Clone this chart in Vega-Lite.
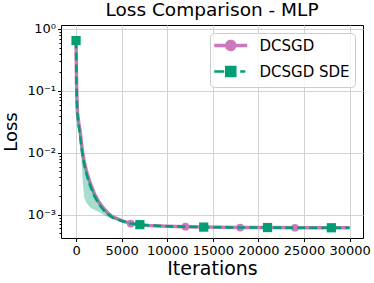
{
  "$schema": "https://vega.github.io/schema/vega-lite/v6.json",
  "autosize": {"type": "none"},
  "padding": {"left": 61, "top": 25, "right": 11, "bottom": 45},
  "width": 302,
  "height": 213,
  "title": {"text": "Loss Comparison - MLP", "fontSize": 18.5, "font": "DejaVu Sans", "fontWeight": "normal", "offset": 3, "color": "black"},
  "config": {
    "font": "DejaVu Sans",
    "view": {"stroke": "black", "strokeWidth": 1},
    "axis": {"domain": false, "gridColor": "#d3d3d3", "gridWidth": 1, "tickColor": "black", "labelColor": "black", "titleColor": "black", "labelFontSize": 13, "titleFontSize": 18, "titleFontWeight": "normal", "tickSize": 3.5, "labelFont": "DejaVu Sans", "titleFont": "DejaVu Sans"}
  },
  "datasets": {
    "curves": [
      {"series": "DCSGD", "iter": 0, "loss": 0.65, "lo": 0.63, "hi": 0.67},
      {"series": "DCSGD", "iter": 50, "loss": 0.15, "lo": 0.13, "hi": 0.17},
      {"series": "DCSGD", "iter": 100, "loss": 0.07, "lo": 0.06, "hi": 0.078},
      {"series": "DCSGD", "iter": 150, "loss": 0.045, "lo": 0.038, "hi": 0.05},
      {"series": "DCSGD", "iter": 300, "loss": 0.03, "lo": 0.025, "hi": 0.033},
      {"series": "DCSGD", "iter": 450, "loss": 0.022, "lo": 0.018, "hi": 0.024},
      {"series": "DCSGD", "iter": 600, "loss": 0.014, "lo": 0.011, "hi": 0.0155},
      {"series": "DCSGD", "iter": 750, "loss": 0.0095, "lo": 0.0078, "hi": 0.0105},
      {"series": "DCSGD", "iter": 900, "loss": 0.0072, "lo": 0.006, "hi": 0.008},
      {"series": "DCSGD", "iter": 1100, "loss": 0.0054, "lo": 0.0045, "hi": 0.006},
      {"series": "DCSGD", "iter": 1300, "loss": 0.0042, "lo": 0.0035, "hi": 0.0046},
      {"series": "DCSGD", "iter": 1600, "loss": 0.0031, "lo": 0.0026, "hi": 0.0034},
      {"series": "DCSGD", "iter": 2000, "loss": 0.0022, "lo": 0.0019, "hi": 0.0024},
      {"series": "DCSGD", "iter": 2500, "loss": 0.0016, "lo": 0.0014, "hi": 0.00172},
      {"series": "DCSGD", "iter": 3000, "loss": 0.00128, "lo": 0.00115, "hi": 0.00135},
      {"series": "DCSGD", "iter": 3500, "loss": 0.00106, "lo": 0.00098, "hi": 0.0011},
      {"series": "DCSGD", "iter": 4000, "loss": 0.00093, "lo": 0.00088, "hi": 0.00096},
      {"series": "DCSGD", "iter": 5000, "loss": 0.0008, "lo": 0.00078, "hi": 0.00082},
      {"series": "DCSGD", "iter": 6000, "loss": 0.00072, "lo": 0.00071, "hi": 0.00073},
      {"series": "DCSGD", "iter": 7000, "loss": 0.00069},
      {"series": "DCSGD", "iter": 8000, "loss": 0.00067},
      {"series": "DCSGD", "iter": 10000, "loss": 0.00065},
      {"series": "DCSGD", "iter": 12000, "loss": 0.00064},
      {"series": "DCSGD", "iter": 14000, "loss": 0.00063},
      {"series": "DCSGD", "iter": 16000, "loss": 0.000625},
      {"series": "DCSGD", "iter": 18000, "loss": 0.00062},
      {"series": "DCSGD", "iter": 21000, "loss": 0.00062},
      {"series": "DCSGD", "iter": 24000, "loss": 0.000615},
      {"series": "DCSGD", "iter": 28000, "loss": 0.000615},
      {"series": "DCSGD", "iter": 30000, "loss": 0.000615},
      {"series": "DCSGD SDE", "iter": 0, "loss": 0.65, "lo": 0.6, "hi": 0.7},
      {"series": "DCSGD SDE", "iter": 50, "loss": 0.14, "lo": 0.11, "hi": 0.17},
      {"series": "DCSGD SDE", "iter": 100, "loss": 0.065, "lo": 0.052, "hi": 0.078},
      {"series": "DCSGD SDE", "iter": 150, "loss": 0.042, "lo": 0.034, "hi": 0.05},
      {"series": "DCSGD SDE", "iter": 300, "loss": 0.027, "lo": 0.022, "hi": 0.032},
      {"series": "DCSGD SDE", "iter": 450, "loss": 0.019, "lo": 0.014, "hi": 0.024},
      {"series": "DCSGD SDE", "iter": 600, "loss": 0.012, "lo": 0.0075, "hi": 0.016},
      {"series": "DCSGD SDE", "iter": 750, "loss": 0.0085, "lo": 0.0032, "hi": 0.011},
      {"series": "DCSGD SDE", "iter": 900, "loss": 0.0064, "lo": 0.0019, "hi": 0.0082},
      {"series": "DCSGD SDE", "iter": 1100, "loss": 0.0048, "lo": 0.0016, "hi": 0.006},
      {"series": "DCSGD SDE", "iter": 1300, "loss": 0.0038, "lo": 0.00145, "hi": 0.0046},
      {"series": "DCSGD SDE", "iter": 1600, "loss": 0.0028, "lo": 0.0013, "hi": 0.0034},
      {"series": "DCSGD SDE", "iter": 2000, "loss": 0.002, "lo": 0.0012, "hi": 0.0024},
      {"series": "DCSGD SDE", "iter": 2500, "loss": 0.00148, "lo": 0.0011, "hi": 0.0017},
      {"series": "DCSGD SDE", "iter": 3000, "loss": 0.0012, "lo": 0.001, "hi": 0.0013},
      {"series": "DCSGD SDE", "iter": 3500, "loss": 0.00102, "lo": 0.00092, "hi": 0.00108},
      {"series": "DCSGD SDE", "iter": 4000, "loss": 0.0009, "lo": 0.00086, "hi": 0.00094},
      {"series": "DCSGD SDE", "iter": 5000, "loss": 0.00079, "lo": 0.00077, "hi": 0.00081},
      {"series": "DCSGD SDE", "iter": 6000, "loss": 0.00072, "lo": 0.00071, "hi": 0.00073},
      {"series": "DCSGD SDE", "iter": 7000, "loss": 0.00069},
      {"series": "DCSGD SDE", "iter": 8000, "loss": 0.00067},
      {"series": "DCSGD SDE", "iter": 10000, "loss": 0.00065},
      {"series": "DCSGD SDE", "iter": 12000, "loss": 0.00064},
      {"series": "DCSGD SDE", "iter": 14000, "loss": 0.00063},
      {"series": "DCSGD SDE", "iter": 16000, "loss": 0.000625},
      {"series": "DCSGD SDE", "iter": 18000, "loss": 0.00062},
      {"series": "DCSGD SDE", "iter": 21000, "loss": 0.00062},
      {"series": "DCSGD SDE", "iter": 24000, "loss": 0.000615},
      {"series": "DCSGD SDE", "iter": 28000, "loss": 0.000615},
      {"series": "DCSGD SDE", "iter": 30000, "loss": 0.000615}
    ],
    "markers": [
      {"series": "DCSGD", "iter": 0, "loss": 0.65},
      {"series": "DCSGD", "iter": 6000, "loss": 0.00072},
      {"series": "DCSGD", "iter": 12000, "loss": 0.00064},
      {"series": "DCSGD", "iter": 18000, "loss": 0.00062},
      {"series": "DCSGD", "iter": 24000, "loss": 0.000615},
      {"series": "DCSGD SDE", "iter": 0, "loss": 0.65},
      {"series": "DCSGD SDE", "iter": 7000, "loss": 0.00069},
      {"series": "DCSGD SDE", "iter": 14000, "loss": 0.00063},
      {"series": "DCSGD SDE", "iter": 21000, "loss": 0.00062},
      {"series": "DCSGD SDE", "iter": 28000, "loss": 0.000615}
    ]
  },
  "layer": [
    {
      "data": {"name": "curves"},
      "transform": [{"filter": "datum.series === 'DCSGD' && isValid(datum.lo)"}],
      "mark": {"type": "area", "color": "#CC78BC", "opacity": 0.3},
      "encoding": {
        "x": {"field": "iter", "type": "quantitative", "scale": {"domain": [-1650, 31470], "nice": false, "zero": false},
          "axis": {"values": [0, 5000, 10000, 15000, 20000, 25000, 30000], "format": "d", "title": "Iterations", "titleFontSize": 19, "labelPadding": 3, "titlePadding": 2, "labelFlush": false}},
        "y": {"field": "lo", "type": "quantitative", "scale": {"type": "log", "domain": [0.00042, 1.16], "nice": false},
          "axis": {
            "title": "Loss", "titlePadding": 6, "labelPadding": 2,
            "values": [1, 0.9, 0.8, 0.7, 0.6, 0.5, 0.4, 0.3, 0.2, 0.1, 0.09, 0.08, 0.07, 0.06, 0.05, 0.04, 0.03, 0.02, 0.01, 0.009, 0.008, 0.007, 0.006, 0.005, 0.004, 0.003, 0.002, 0.001, 0.0009, 0.0008, 0.0007, 0.0006, 0.0005],
            "labelExpr": "abs(log(datum.value)/LN10 - round(log(datum.value)/LN10)) < 0.01 ? ['10⁰','10⁻¹','10⁻²','10⁻³'][round(-log(datum.value)/LN10)] : ''",
            "gridOpacity": {"condition": {"test": "abs(log(datum.value)/LN10 - round(log(datum.value)/LN10)) < 0.01", "value": 1}, "value": 0},
            "tickSize": {"condition": {"test": "abs(log(datum.value)/LN10 - round(log(datum.value)/LN10)) < 0.01", "value": 3.5}, "value": 2}
          }},
        "y2": {"field": "hi"}
      }
    },
    {
      "data": {"name": "curves"},
      "transform": [{"filter": "datum.series === 'DCSGD'"}],
      "mark": {"type": "line", "strokeWidth": 3.5},
      "encoding": {
        "x": {"field": "iter", "type": "quantitative", "scale": {"domain": [-1650, 31470], "nice": false, "zero": false}},
        "y": {"field": "loss", "type": "quantitative", "scale": {"type": "log", "domain": [0.00042, 1.16], "nice": false}},
        "color": {"field": "series", "type": "nominal",
          "scale": {"domain": ["DCSGD", "DCSGD SDE"], "range": ["#CC78BC", "#029E73"]},
          "legend": {
            "title": null, "orient": "top-right", "offset": 8, "padding": 5,
            "fillColor": "rgba(255,255,255,0.8)", "strokeColor": "#cccccc", "cornerRadius": 4,
            "labelFontSize": 15, "labelColor": "black", "labelFont": "DejaVu Sans",
            "symbolSize": 272, "labelOffset": 29.5, "rowPadding": 4,
            "encode": {
              "symbols": {"update": {
                "shape": {"signal": "datum.value === 'DCSGD' ? 'M-1,0H3M1.485,0A0.485,0.485 0 1,1 0.515,0A0.485,0.485 0 1,1 1.485,0Z' : 'M-1,0H0.2M2.15,0H2.76M0.455,-0.545H1.545V0.545H0.455Z'"},
                "fill": {"signal": "datum.value === 'DCSGD' ? '#CC78BC' : '#029E73'"},
                "stroke": {"signal": "datum.value === 'DCSGD' ? '#CC78BC' : '#029E73'"},
                "fillOpacity": {"value": 1},
                "strokeWidth": {"signal": "datum.value === 'DCSGD' ? 3.5 : 2.6"},
                "strokeDash": {"value": [1, 0]}
              }}
            }
          }}
      }
    },
    {
      "data": {"name": "markers"},
      "transform": [{"filter": "datum.series === 'DCSGD'"}],
      "mark": {"type": "point", "shape": "circle", "filled": true, "size": 60, "color": "#CC78BC", "opacity": 1},
      "encoding": {
        "x": {"field": "iter", "type": "quantitative", "scale": {"domain": [-1650, 31470], "nice": false, "zero": false}},
        "y": {"field": "loss", "type": "quantitative", "scale": {"type": "log", "domain": [0.00042, 1.16], "nice": false}}
      }
    },
    {
      "data": {"name": "curves"},
      "transform": [{"filter": "datum.series === 'DCSGD SDE' && isValid(datum.lo)"}],
      "mark": {"type": "area", "color": "#029E73", "opacity": 0.35},
      "encoding": {
        "x": {"field": "iter", "type": "quantitative", "scale": {"domain": [-1650, 31470], "nice": false, "zero": false}},
        "y": {"field": "lo", "type": "quantitative", "scale": {"type": "log", "domain": [0.00042, 1.16], "nice": false}},
        "y2": {"field": "hi"}
      }
    },
    {
      "data": {"name": "curves"},
      "transform": [{"filter": "datum.series === 'DCSGD SDE'"}],
      "mark": {"type": "line", "strokeWidth": 2.6, "strokeDash": [8, 4]},
      "encoding": {
        "x": {"field": "iter", "type": "quantitative", "scale": {"domain": [-1650, 31470], "nice": false, "zero": false}},
        "y": {"field": "loss", "type": "quantitative", "scale": {"type": "log", "domain": [0.00042, 1.16], "nice": false}},
        "color": {"field": "series", "type": "nominal", "scale": {"domain": ["DCSGD", "DCSGD SDE"], "range": ["#CC78BC", "#029E73"]}}
      }
    },
    {
      "data": {"name": "markers"},
      "transform": [{"filter": "datum.series === 'DCSGD SDE'"}],
      "mark": {"type": "point", "shape": "square", "filled": true, "size": 85, "color": "#029E73", "opacity": 1},
      "encoding": {
        "x": {"field": "iter", "type": "quantitative", "scale": {"domain": [-1650, 31470], "nice": false, "zero": false}},
        "y": {"field": "loss", "type": "quantitative", "scale": {"type": "log", "domain": [0.00042, 1.16], "nice": false}}
      }
    }
  ]
}
